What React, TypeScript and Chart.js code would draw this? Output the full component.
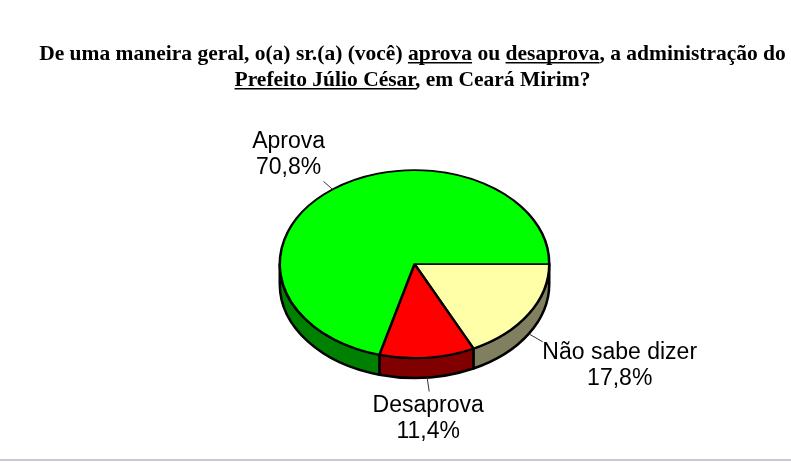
import React, { useEffect, useRef } from 'react';
import { Chart, registerables } from 'chart.js';

Chart.register(...registerables);

// data, in drawing order (clockwise from 3 o'clock)
const categories = ['Não sabe dizer', 'Desaprova', 'Aprova'];
const percentages = [17.8, 11.4, 70.8];
const topColors = ['#FFFFA8', '#FF0000', '#00FF00'];
const wallColors = ['#808060', '#800000', '#008000'];

const titleLines = [
    'De uma maneira geral, o(a) sr.(a) (você) aprova ou desaprova, a administração do',
    'Prefeito Júlio César, em Ceará Mirim?',
];
const underlined = [['aprova', 'desaprova'], ['Prefeito Júlio César']];

// look of the tilted pie
const PIE_X = 414.5;
const PIE_Y = 264;
const TILT = 0.697;
const DEPTH = 20;
const LABEL_FONT = '23px "Liberation Sans"';
const TITLE_FONT = { family: '"Liberation Serif"', size: 21.5, weight: 'bold' as const, lineHeight: 26 / 21.5 };

// where each label goes: leader end and text centre, relative to the slice mid point on the rim
const leaderEnds = [[14, 8], [2, 14], [-9, -8]];
const labelOffsets = [[91, 25], [1, 34], [-44, -41]];

const formatPct = (v: number) => v.toFixed(1).replace('.', ',') + '%';

const tiltPlugin = {
    id: 'tilt',
    beforeDatasetsDraw(chart: any) {
        const ctx = chart.ctx;
        const arcs = chart.getDatasetMeta(0).data;
        ctx.save();
        ctx.lineWidth = 2.5;
        ctx.strokeStyle = '#000';
        ctx.lineJoin = 'round';
        // side wall, only the front half of the pie shows it
        arcs.forEach((arc: any, i: number) => {
            const a0 = Math.max(arc.startAngle, 0);
            const a1 = Math.min(arc.endAngle, Math.PI);
            if (a1 <= a0) return;
            const rx = arc.outerRadius;
            const ry = rx * TILT;
            ctx.beginPath();
            ctx.ellipse(PIE_X, PIE_Y, rx, ry, 0, a0, a1);
            ctx.ellipse(PIE_X, PIE_Y + DEPTH, rx, ry, 0, a1, a0, true);
            ctx.closePath();
            ctx.fillStyle = wallColors[i];
            ctx.fill();
            ctx.stroke();
        });
        ctx.restore();

        const first = arcs[0];
        ctx.save();
        ctx.translate(PIE_X, PIE_Y);
        ctx.scale(1, TILT);
        ctx.translate(-first.x, -first.y);
    },
    afterDatasetsDraw(chart: any) {
        const ctx = chart.ctx;
        ctx.restore();

        // leaders and labels
        chart.getDatasetMeta(0).data.forEach((arc: any, i: number) => {
            const mid = (arc.startAngle + arc.endAngle) / 2;
            const sx = PIE_X + Math.cos(mid) * arc.outerRadius;
            let sy = PIE_Y + Math.sin(mid) * arc.outerRadius * TILT;
            if (Math.sin(mid) > 0) sy += DEPTH;
            ctx.save();
            ctx.strokeStyle = '#333';
            ctx.lineWidth = 1;
            ctx.beginPath();
            ctx.moveTo(sx, sy);
            ctx.lineTo(sx + leaderEnds[i][0], sy + leaderEnds[i][1]);
            ctx.stroke();
            ctx.fillStyle = '#000';
            ctx.font = LABEL_FONT;
            ctx.textAlign = 'center';
            ctx.textBaseline = 'alphabetic';
            const tx = sx + labelOffsets[i][0];
            const ty = sy + labelOffsets[i][1];
            ctx.fillText(categories[i], tx, ty);
            ctx.fillText(formatPct(percentages[i]), tx, ty + 26);
            ctx.restore();
        });
    },
    afterDraw(chart: any) {
        const ctx = chart.ctx;
        const tb = chart.titleBlock;
        const center = (tb.left + tb.right) / 2;
        ctx.save();
        ctx.font = `bold ${TITLE_FONT.size}px ${TITLE_FONT.family}`;
        ctx.fillStyle = '#000';
        titleLines.forEach((line, i) => {
            const left = center - ctx.measureText(line).width / 2;
            const y = tb.top + 26 * i + 21;
            underlined[i].forEach((phrase) => {
                const x = left + ctx.measureText(line.slice(0, line.indexOf(phrase))).width;
                ctx.fillRect(x, y, ctx.measureText(phrase).width, 1.5);
            });
        });
        // grey page edge at the bottom
        ctx.fillStyle = '#C8C8D4';
        ctx.fillRect(0, 459, chart.width, 2);
        ctx.restore();
    },
};

const App = () => {
    const chartRef = useRef<HTMLCanvasElement>(null);

    useEffect(() => {
        if (chartRef.current == null) return;
        const myChart = new Chart(chartRef.current, {
            type: 'pie',
            data: {
                labels: categories,
                datasets: [{
                    data: percentages,
                    backgroundColor: topColors,
                    borderColor: '#000',
                    borderWidth: 2.5,
                    borderAlign: 'center',
                }],
            },
            options: {
                responsive: false,
                animation: false,
                rotation: 90,
                layout: { padding: { top: 41, left: 34, right: 0, bottom: 91 } },
                plugins: {
                    legend: { display: false },
                    tooltip: { enabled: false },
                    title: {
                        display: true,
                        text: titleLines,
                        color: '#000',
                        font: TITLE_FONT,
                        padding: { top: 0, bottom: 7 },
                    },
                },
            },
            plugins: [tiltPlugin],
        } as any);
        return () => {
            myChart.destroy();
        };
    }, []);

    return (
        <canvas
            ref={chartRef}
            width={791}
            height={463}
            style={{ position: 'absolute', left: 0, top: 0, background: '#fff' }}
        />
    );
};

export default App;
